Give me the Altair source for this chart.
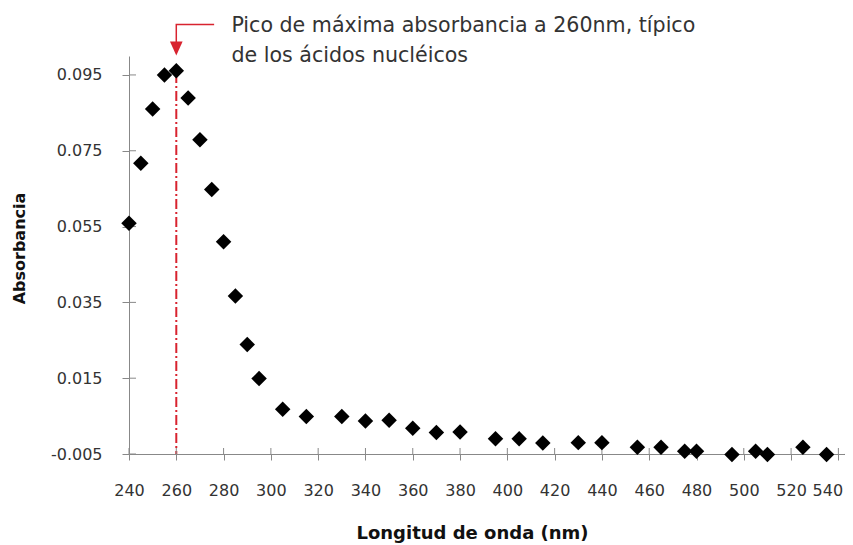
import altair as alt
import pandas as pd

# --- data ---
wavelength = [240, 245, 250, 255, 260, 265, 270, 275, 280, 285, 290, 295, 305, 315,
              330, 340, 350, 360, 370, 380, 395, 405, 415, 430, 440, 455, 465, 475,
              480, 495, 505, 510, 525, 535, 546]
absorbance = [0.0559, 0.0717, 0.0860, 0.0950, 0.0961, 0.0889, 0.0779, 0.0648, 0.0510,
              0.0367, 0.0239, 0.0149, 0.0068, 0.0049, 0.0049, 0.0037, 0.0039, 0.0018,
              0.0007, 0.0008, -0.0010, -0.0010, -0.0021, -0.0020, -0.0020, -0.0032,
              -0.0032, -0.0043, -0.0043, -0.0051, -0.0043, -0.0051, -0.0032, -0.0051,
              -0.0050]
x_ticks = [240, 260, 280, 300, 320, 340, 360, 380, 400, 420, 440, 460, 480, 500, 520, 540]
y_ticks = [-0.005, 0.015, 0.035, 0.055, 0.075, 0.095]

peak_nm = 260
annot_line1 = "Pico de máxima absorbancia a 260nm, típico"
annot_line2 = "de los ácidos nucléicos"

FONT = "DejaVu Sans"
RED = "#d8232f"

df = pd.DataFrame({"nm": wavelength, "abs": absorbance})

xscale = alt.Scale(domain=[240, 542.8], nice=False, zero=False)
yscale = alt.Scale(domain=[-0.005, 0.1], nice=False, zero=False)

x_enc = alt.X("nm:Q", scale=xscale, axis=alt.Axis(
    values=x_ticks, title="Longitud de onda (nm)", grid=False, labelFlush=False,
    labelOffset={"condition": {"test": "datum.value >= 540", "value": -11}, "value": 0},
    labelFont=FONT, labelFontSize=16, labelColor="#333333",
    tickColor="#888888", tickSize=6, domainColor="#888888", labelPadding=22,
    titleFont=FONT, titleFontSize=18, titleFontWeight="bold", titleColor="#111111",
    titlePadding=26, titleX=343))
y_enc = alt.Y("abs:Q", scale=yscale, axis=alt.Axis(
    values=y_ticks, title="Absorbancia", grid=False, labelFlush=False,
    labelExpr="(datum.value < 0 ? '-' : '') + format(abs(datum.value), '.3f')",
    labelFont=FONT, labelFontSize=16, labelColor="#333333",
    tickColor="#888888", tickSize=7, domainColor="#888888", labelPadding=20,
    titleFont=FONT, titleFontSize=16, titleFontWeight="bold", titleColor="#111111",
    titlePadding=23, titleY=192))

points = alt.Chart(df).mark_point(shape="diamond", filled=True, color="black",
                                  size=240, opacity=1).encode(x=x_enc, y=y_enc)

# inner halves of the crossing tick marks
xt = pd.DataFrame({"nm": x_ticks})
yt = pd.DataFrame({"abs": y_ticks})
xtick_in = alt.Chart(xt).mark_rule(color="#888888", strokeWidth=1).encode(
    x=alt.X("nm:Q", scale=xscale), y=alt.value(398), y2=alt.value(392))
ytick_in = alt.Chart(yt).mark_rule(color="#888888", strokeWidth=1).encode(
    y=alt.Y("abs:Q", scale=yscale), x=alt.value(0), x2=alt.value(7))

# annotation: dash-dot line at the peak
vline_df = pd.DataFrame({"nm": [peak_nm], "y1": [0.0955], "y2": [-0.005]})
vline = alt.Chart(vline_df).mark_rule(color=RED, strokeWidth=2,
                                      strokeDash=[10, 3, 2, 3]).encode(
    x=alt.X("nm:Q", scale=xscale), y=alt.Y("y1:Q", scale=yscale), y2="y2:Q")

# annotation arrow (elbow + head)
arrow_df = pd.DataFrame({"nm": [276.0, peak_nm, peak_nm],
                         "abs": [0.1083, 0.1083, 0.1036], "o": [0, 1, 2]})
arrow = alt.Chart(arrow_df).mark_line(color=RED, strokeWidth=1.5).encode(
    x=alt.X("nm:Q", scale=xscale), y=alt.Y("abs:Q", scale=yscale), order="o:Q")
head_df = pd.DataFrame({"nm": [peak_nm], "abs": [0.1020]})
head = alt.Chart(head_df).mark_point(shape="M-1,-1.1L1,-1.1L0,1.1Z", filled=True,
                                     color=RED, size=160, opacity=1).encode(
    x=alt.X("nm:Q", scale=xscale), y=alt.Y("abs:Q", scale=yscale))

text_df = pd.DataFrame({"nm": [283.3, 283.3], "abs": [0.1063, 0.0984],
                        "t": [annot_line1, annot_line2]})
text = alt.Chart(text_df).mark_text(align="left", baseline="alphabetic", font=FONT,
                                    fontSize=20.6, color="#333333").encode(
    x=alt.X("nm:Q", scale=xscale), y=alt.Y("abs:Q", scale=yscale), text="t:N")

chart = alt.layer(vline, xtick_in, ytick_in, points, arrow, head, text).properties(
    width=716, height=398,
    autosize=alt.AutoSizeParams(type="none"),
    padding={"left": 121, "top": 48, "right": 0, "bottom": 89},
    background="white",
).configure_view(stroke=None)

chart.save("out.html", embed_options={"renderer": "svg", "actions": False})
